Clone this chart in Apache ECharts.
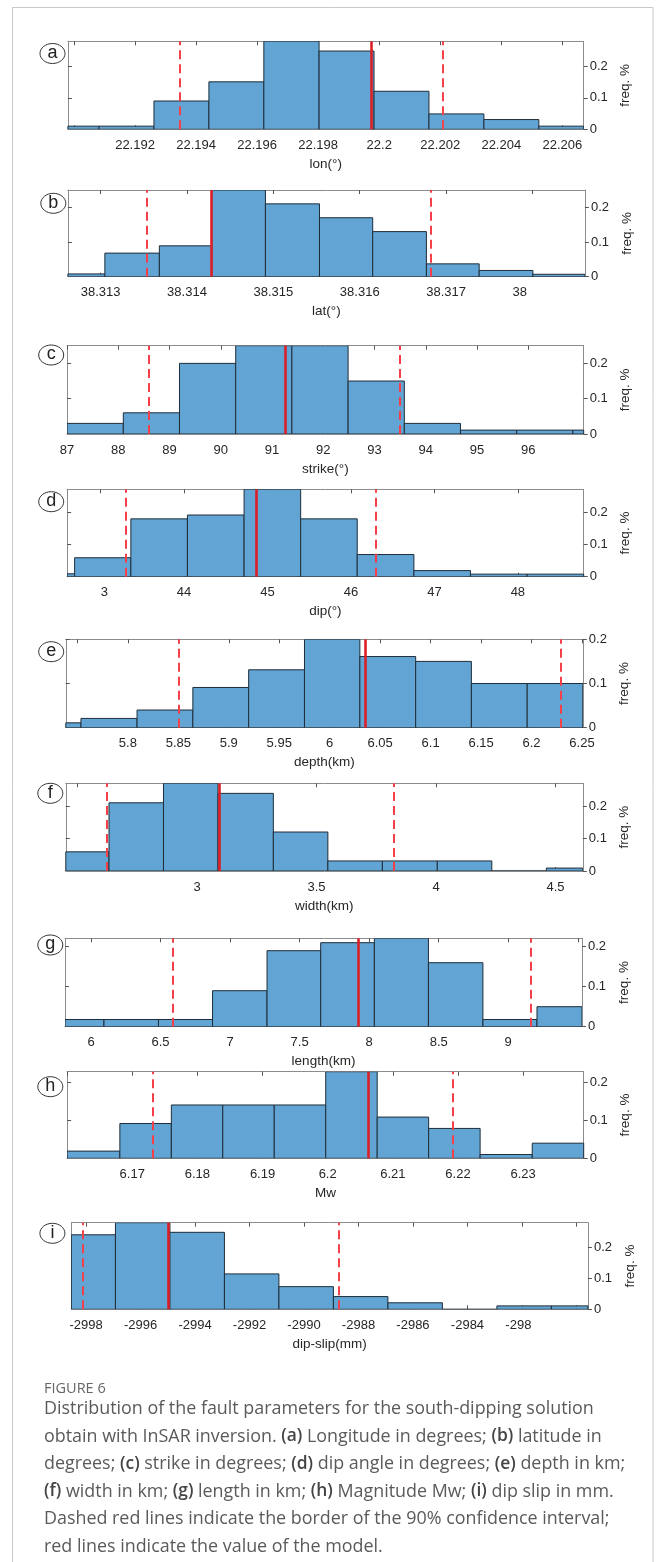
<!DOCTYPE html>
<html>
<head>
<meta charset="utf-8">
<script src="https://cdn.jsdelivr.net/npm/echarts@6/dist/echarts.min.js"></script>
<style>
  html, body { margin: 0; padding: 0; background: #fff; }
  #main { width: 656px; height: 1562px; }
</style>
</head>
<body>
<div id="main"></div>
<script>
// ---- data (bin edges, freq per bin, ticks, CI borders, model value)
const lonRange = [22.1898, 22.2067];
const lonEdges = [22.1898, 22.19082, 22.19262, 22.19442, 22.19622, 22.19803, 22.19983, 22.20163, 22.20343, 22.20523, 22.2067];
const lonFreq = [0.010, 0.010, 0.090, 0.151, 0.280, 0.249, 0.121, 0.049, 0.031, 0.010];
const lonTicks = [22.190, 22.192, 22.194, 22.196, 22.198, 22.200, 22.202, 22.204, 22.206];
const lonLabels = ['', '22.192', '22.194', '22.196', '22.198', '22.2', '22.202', '22.204', '22.206'];
const lonCI = [22.19348, 22.20209];
const lonModel = 22.19974;

const latRange = [38.312621, 38.318607];
const latEdges = [38.312621, 38.313049, 38.31368, 38.314286, 38.314908, 38.315534, 38.31615, 38.316772, 38.317383, 38.318005, 38.318607];
const latFreq = [0.008, 0.068, 0.089, 0.250, 0.210, 0.170, 0.130, 0.037, 0.018, 0.007];
const latTicks = [38.313, 38.314, 38.315, 38.316, 38.317, 38.318];
const latLabels = ['38.313', '38.314', '38.315', '38.316', '38.317', '38'];
const latCI = [38.313534, 38.316825];
const latModel = 38.314277;

const strikeRange = [87, 97.08];
const strikeEdges = [87, 88.097, 89.193, 90.29, 91.386, 92.483, 93.58, 94.676, 95.773, 96.869, 97.08];
const strikeFreq = [0.030, 0.060, 0.200, 0.250, 0.250, 0.150, 0.030, 0.011, 0.011, 0.011];
const strikeTicks = [87, 88, 89, 90, 91, 92, 93, 94, 95, 96];
const strikeLabels = ['87', '88', '89', '90', '91', '92', '93', '94', '95', '96'];
const strikeCI = [88.596, 93.481];
const strikeModel = 91.263;

const dipRange = [42.598, 48.789];
const dipEdges = [42.598, 42.688, 43.362, 44.04, 44.719, 45.397, 46.075, 46.754, 47.432, 48.111, 48.789];
const dipFreq = [0.009, 0.059, 0.180, 0.192, 0.272, 0.180, 0.069, 0.019, 0.008, 0.008];
const dipTicks = [43, 44, 45, 46, 47, 48];
const dipLabels = ['3', '44', '45', '46', '47', '48'];
const dipCI = [43.302, 46.296];
const dipModel = 44.869;

const depthRange = [5.7385, 6.2508];
const depthEdges = [5.7385, 5.7535, 5.8091, 5.8644, 5.9197, 5.975, 6.0299, 6.0852, 6.1404, 6.1957, 6.2508];
const depthFreq = [0.011, 0.021, 0.040, 0.091, 0.131, 0.200, 0.161, 0.150, 0.100, 0.100];
const depthTicks = [5.75, 5.8, 5.85, 5.9, 5.95, 6, 6.05, 6.1, 6.15, 6.2, 6.25];
const depthLabels = ['', '5.8', '5.85', '5.9', '5.95', '6', '6.05', '6.1', '6.15', '6.2', '6.25'];
const depthCI = [5.85, 6.2293];
const depthModel = 6.0348;

const widthRange = [2.4509, 4.614];
const widthEdges = [2.4509, 2.6316, 2.8596, 3.0877, 3.3193, 3.5474, 3.7754, 4.0053, 4.2333, 4.4614, 4.614];
const widthFreq = [0.059, 0.210, 0.270, 0.239, 0.120, 0.031, 0.031, 0.031, 0, 0.009];
const widthTicks = [2.5, 3, 3.5, 4, 4.5];
const widthLabels = ['', '3', '3.5', '4', '4.5'];
const widthCI = [2.6211, 3.8246];
const widthModel = 3.093;

const lengthRange = [5.8131, 9.5304];
const lengthEdges = [5.8131, 6.0934, 6.4852, 6.874, 7.2658, 7.6516, 8.0374, 8.4262, 8.818, 9.2068, 9.5304];
const lengthFreq = [0.018, 0.018, 0.018, 0.090, 0.190, 0.210, 0.221, 0.160, 0.018, 0.050];
const lengthTicks = [6, 6.5, 7, 7.5, 8, 8.5, 9, 9.5];
const lengthLabels = ['6', '6.5', '7', '7.5', '8', '8.5', '9', ''];
const lengthCI = [6.5877, 9.1597];
const lengthModel = 7.9228;

const mwRange = [6.16, 6.2393];
const mwEdges = [6.16, 6.1681, 6.176, 6.1839, 6.1918, 6.1997, 6.2076, 6.2155, 6.2234, 6.2314, 6.2393];
const mwFreq = [0.019, 0.092, 0.141, 0.141, 0.141, 0.229, 0.109, 0.079, 0.010, 0.040];
const mwTicks = [6.16, 6.17, 6.18, 6.19, 6.2, 6.21, 6.22, 6.23];
const mwLabels = ['', '6.17', '6.18', '6.19', '6.2', '6.21', '6.22', '6.23'];
const mwCI = [6.1731, 6.2192];
const mwModel = 6.2062;

const slipRange = [-2998.54, -2979.58];
const slipEdges = [-2998.54, -2996.92, -2994.92, -2992.92, -2990.92, -2988.92, -2986.92, -2984.92, -2982.92, -2980.92, -2979.58];
const slipFreq = [0.240, 0.279, 0.248, 0.114, 0.073, 0.041, 0.021, 0, 0.011, 0.011];
const slipTicks = [-2998, -2996, -2994, -2992, -2990, -2988, -2986, -2984, -2982, -2980];
const slipLabels = ['-2998', '-2996', '-2994', '-2992', '-2990', '-2988', '-2986', '-2984', '-298', ''];
const slipCI = [-2998.12, -2988.72];
const slipModel = -2994.97;

const freqTicks = [0, 0.1, 0.2];

const panels = [
  { tag: 'a', name: 'lon(°)', range: lonRange, edges: lonEdges, freq: lonFreq, ticks: lonTicks, labels: lonLabels, ci: lonCI, model: lonModel },
  { tag: 'b', name: 'lat(°)', range: latRange, edges: latEdges, freq: latFreq, ticks: latTicks, labels: latLabels, ci: latCI, model: latModel },
  { tag: 'c', name: 'strike(°)', range: strikeRange, edges: strikeEdges, freq: strikeFreq, ticks: strikeTicks, labels: strikeLabels, ci: strikeCI, model: strikeModel },
  { tag: 'd', name: 'dip(°)', range: dipRange, edges: dipEdges, freq: dipFreq, ticks: dipTicks, labels: dipLabels, ci: dipCI, model: dipModel },
  { tag: 'e', name: 'depth(km)', range: depthRange, edges: depthEdges, freq: depthFreq, ticks: depthTicks, labels: depthLabels, ci: depthCI, model: depthModel },
  { tag: 'f', name: 'width(km)', range: widthRange, edges: widthEdges, freq: widthFreq, ticks: widthTicks, labels: widthLabels, ci: widthCI, model: widthModel },
  { tag: 'g', name: 'length(km)', range: lengthRange, edges: lengthEdges, freq: lengthFreq, ticks: lengthTicks, labels: lengthLabels, ci: lengthCI, model: lengthModel },
  { tag: 'h', name: 'Mw', range: mwRange, edges: mwEdges, freq: mwFreq, ticks: mwTicks, labels: mwLabels, ci: mwCI, model: mwModel },
  { tag: 'i', name: 'dip-slip(mm)', range: slipRange, edges: slipEdges, freq: slipFreq, ticks: slipTicks, labels: slipLabels, ci: slipCI, model: slipModel }
];

// plot boxes in px: left, top, right, bottom  and the circled letters
const boxes = [
  [67.9, 41.3, 583.7, 129.3],
  [67.9, 190, 584.9, 276.7],
  [67.1, 345.7, 583.7, 434],
  [67.1, 489.3, 583.7, 576.7],
  [65.8, 639.3, 582.8, 727.7],
  [65.8, 783.3, 582.8, 871],
  [65, 938.3, 582, 1026.7],
  [67.1, 1071.7, 583.7, 1158.3],
  [71.3, 1222.7, 587.9, 1309.3]
];
const tagPos = [[52.5, 53.5], [53.3, 203.3], [51.2, 355], [51.2, 501.7], [51.2, 651.7], [50.3, 793.3], [50.3, 945], [50.3, 1086.7], [52.4, 1233.3]];

const FONT = '"Liberation Sans", Arial, sans-serif';
const TXT = '#262626';
const BOX = '#8c8c8c';

const measure = (() => {
  const ctx = document.createElement('canvas').getContext('2d');
  ctx.font = '13px "Liberation Sans"';
  return (s) => ctx.measureText(s).width;
})();

// truncated labels ("38", "3", "-298") stay where the full number would sit
function tickFormatter(p) {
  return (v) => {
    const k = p.ticks.findIndex((t) => Math.abs(t - v) < 1e-9);
    const lab = k < 0 ? '' : p.labels[k];
    const full = String(p.ticks[k]);
    if (!lab || lab === full) return lab;
    const side = full.startsWith(lab) ? 'l' : 'r';
    return '{' + side + '|' + lab + '}';
  };
}

function renderBin(params, api) {
  const p0 = api.coord([api.value(0), api.value(2)]);
  const p1 = api.coord([api.value(1), 0]);
  return {
    type: 'rect',
    shape: { x: p0[0], y: p0[1], width: p1[0] - p0[0], height: p1[1] - p0[1] },
    style: { fill: '#62a5d4', stroke: '#1f2d38', lineWidth: 1 }
  };
}

const grid = [], xAxis = [], yAxis = [], series = [], graphic = [];

panels.forEach((p, i) => {
  const [l, t, r, b] = boxes[i];
  const ymax = Math.max(...p.freq);
  grid.push({ left: l, top: t, width: r - l, height: b - t, show: false });
  const fullW = Math.max(...p.ticks.map((v) => measure(String(v))));
  xAxis.push({
    type: 'value', gridIndex: i, min: p.range[0], max: p.range[1], position: 'bottom',
    name: p.name, nameLocation: 'middle', nameGap: 28,
    nameTextStyle: { fontFamily: FONT, fontSize: 13.5, color: TXT },
    axisLine: { show: true, onZero: false, lineStyle: { color: BOX, width: 1 } },
    axisTick: { show: true, inside: true, length: 4, customValues: p.ticks, lineStyle: { color: '#555' } },
    axisLabel: {
      customValues: p.ticks, margin: 9.5, fontFamily: FONT, fontSize: 13, color: TXT,
      formatter: tickFormatter(p),
      rich: {
        l: { width: fullW, align: 'left', fontFamily: FONT, fontSize: 13, color: TXT },
        r: { width: measure('43'), align: 'right', fontFamily: FONT, fontSize: 13, color: TXT }
      }
    },
    splitLine: { show: false }
  });
  xAxis.push({
    type: 'value', gridIndex: i, min: p.range[0], max: p.range[1], position: 'top',
    axisLine: { show: true, onZero: false, lineStyle: { color: BOX, width: 1 } },
    axisTick: { show: true, inside: true, length: 4, customValues: p.ticks, lineStyle: { color: '#555' } },
    axisLabel: { show: false }, splitLine: { show: false }
  });
  yAxis.push({
    type: 'value', gridIndex: i, min: 0, max: ymax, position: 'right',
    name: 'freq. %', nameLocation: 'middle', nameRotate: 90, nameGap: 20,
    nameTextStyle: { fontFamily: FONT, fontSize: 13.5, color: TXT },
    axisLine: { show: true, onZero: false, lineStyle: { color: BOX, width: 1 } },
    axisTick: { show: true, inside: false, length: 4, customValues: freqTicks, lineStyle: { color: '#555' } },
    axisLabel: { customValues: freqTicks, margin: 6, fontFamily: FONT, fontSize: 13, color: TXT, formatter: (v) => String(v) },
    splitLine: { show: false }
  });
  yAxis.push({
    type: 'value', gridIndex: i, min: 0, max: ymax, position: 'left',
    axisLine: { show: true, onZero: false, lineStyle: { color: BOX, width: 1 } },
    axisTick: { show: true, inside: true, length: 4, customValues: freqTicks.slice(1), lineStyle: { color: '#555' } },
    axisLabel: { show: false }, splitLine: { show: false }
  });

  const bins = p.freq.map((f, k) => [p.edges[k], p.edges[k + 1], f]);
  series.push({
    type: 'custom', xAxisIndex: 2 * i, yAxisIndex: 2 * i,
    renderItem: renderBin, data: bins, encode: { x: [0, 1], y: 2 }, clip: true,
    markLine: {
      silent: true, symbol: 'none', label: { show: false }, animation: false, precision: 8,
      data: [
        { xAxis: p.ci[0], lineStyle: { color: '#f5404a', width: 2, type: [9, 5] } },
        { xAxis: p.ci[1], lineStyle: { color: '#f5404a', width: 2, type: [9, 5] } },
        { xAxis: p.model, lineStyle: { color: '#dc1f26', width: 2.6, type: 'solid' } }
      ]
    }
  });

  graphic.push({
    type: 'ellipse', shape: { cx: tagPos[i][0], cy: tagPos[i][1], rx: 12.5, ry: 10 },
    style: { fill: '#fff', stroke: '#333', lineWidth: 1 }, z: 10
  });
  graphic.push({
    type: 'text', x: tagPos[i][0], y: tagPos[i][1] - 0.5, z: 11,
    style: { text: p.tag, fill: '#222', font: '18px ' + FONT, align: 'center', verticalAlign: 'middle' }
  });
});

// outer frame
graphic.push({
  type: 'rect', shape: { x: 12.5, y: 7.5, width: 640.5, height: 1570 },
  style: { fill: 'none', stroke: '#c9c9c9', lineWidth: 1 }, z: 0
});

// caption
const CAP = '"Open Sans", Lato, sans-serif';
graphic.push({
  type: 'text', x: 44, y: 1389, z: 5,
  style: { text: 'FIGURE 6', fill: '#666', font: '14.5px ' + CAP, verticalAlign: 'middle' }
});
const captionLines = [
  'Distribution of the fault parameters for the south-dipping solution',
  'obtain with InSAR inversion. {b|(a)} Longitude in degrees; {b|(b)} latitude in',
  'degrees; {b|(c)} strike in degrees; {b|(d)} dip angle in degrees; {b|(e)} depth in km;',
  '{b|(f)} width in km; {b|(g)} length in km; {b|(h)} Magnitude Mw; {b|(i)} dip slip in mm.',
  'Dashed red lines indicate the border of the 90% confidence interval;',
  'red lines indicate the value of the model.'
];
captionLines.forEach((s, k) => {
  graphic.push({
    type: 'text', x: 44, y: 1409 + k * 27.5, z: 5,
    style: {
      text: s, fill: '#5a5a5a', fontFamily: CAP, fontSize: 17.9, verticalAlign: 'middle',
      rich: { b: { fontWeight: 600, fill: '#444', fontFamily: CAP, fontSize: 17.4 } }
    }
  });
});

const chart = echarts.init(document.getElementById('main'), null, { renderer: 'canvas' });
chart.setOption({
  animation: false,
  backgroundColor: '#fff',
  grid, xAxis, yAxis, series, graphic
});
</script>
</body>
</html>
